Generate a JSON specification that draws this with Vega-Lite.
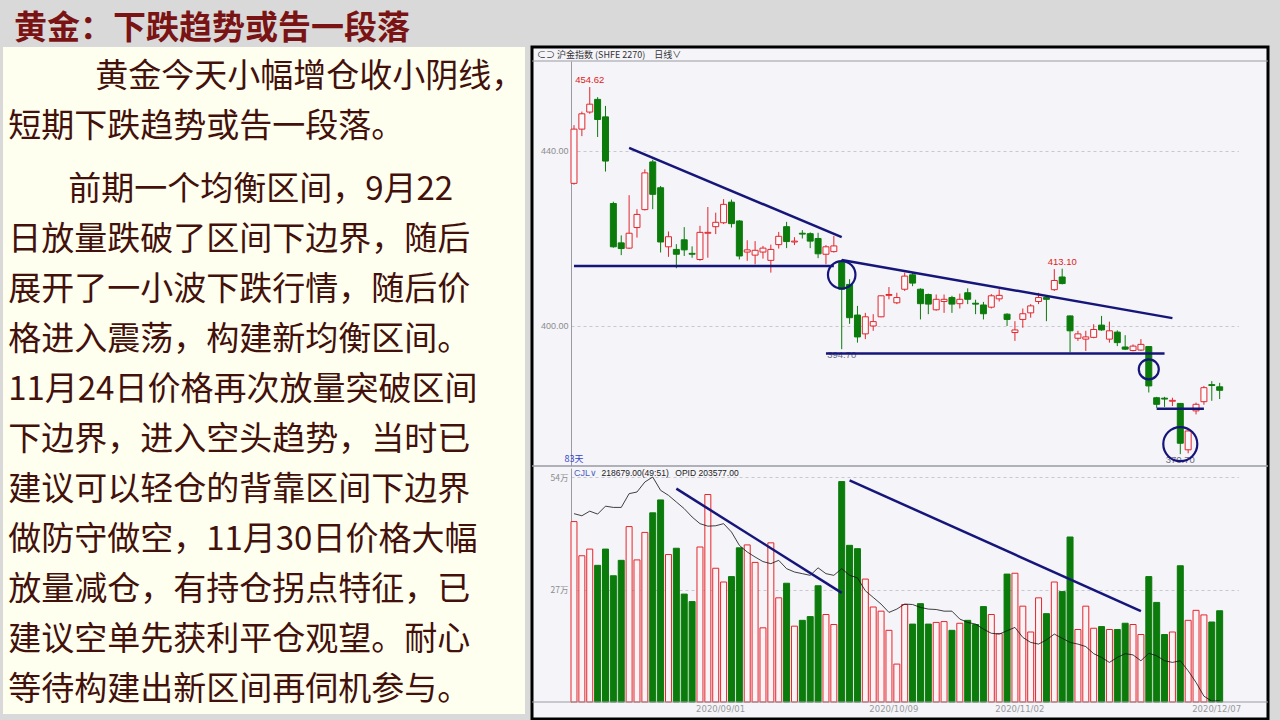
{
  "$schema": "https://vega.github.io/schema/vega-lite/v6.json",
  "background": "#d9d9d9",
  "padding": {"left": 3, "top": 12, "right": 12, "bottom": 2},
  "bounds": "flush",
  "title": {"text": "黄金：下跌趋势或告一段落", "anchor": "start", "font": "Noto Sans CJK SC", "fontSize": 33, "fontWeight": "bold", "color": "#7a1414", "offset": 0, "dx": 11},
  "config": {"view": {"stroke": null}, "axis": {"labelFont": "Liberation Sans"}},
  "spacing": 7,
  "datasets": {
    "k": [
      {"d":"2020/08/05","o":432.6,"h":445.9,"l":432.3,"c":445.0,"v":43.3,"oi":45.2},
      {"d":"2020/08/06","o":445.0,"h":449.0,"l":443.4,"c":448.5,"v":35.1,"oi":44.7},
      {"d":"2020/08/07","o":448.9,"h":454.62,"l":448.5,"c":450.7,"v":36.7,"oi":45.8},
      {"d":"2020/08/10","o":451.8,"h":452.3,"l":443.2,"c":447.2,"v":32.8,"oi":45.1},
      {"d":"2020/08/11","o":447.8,"h":450.3,"l":435.3,"c":437.7,"v":36.7,"oi":47.0},
      {"d":"2020/08/12","o":428.0,"h":428.4,"l":417.9,"c":418.1,"v":30.3,"oi":46.7},
      {"d":"2020/08/13","o":419.0,"h":420.7,"l":416.2,"c":417.7,"v":34.0,"oi":46.7},
      {"d":"2020/08/14","o":417.8,"h":429.9,"l":417.6,"c":421.2,"v":42.1,"oi":50.0},
      {"d":"2020/08/17","o":422.5,"h":426.7,"l":420.2,"c":425.5,"v":34.1,"oi":50.4},
      {"d":"2020/08/18","o":426.6,"h":435.8,"l":426.4,"c":435.0,"v":40.7,"oi":52.8},
      {"d":"2020/08/19","o":437.5,"h":438.0,"l":426.7,"c":430.1,"v":45.4,"oi":54.0},
      {"d":"2020/08/20","o":431.6,"h":432.0,"l":416.8,"c":419.2,"v":48.5,"oi":50.8},
      {"d":"2020/08/21","o":418.1,"h":421.6,"l":415.8,"c":420.4,"v":35.4,"oi":49.6},
      {"d":"2020/08/24","o":417.5,"h":418.7,"l":413.2,"c":416.4,"v":36.9,"oi":48.0},
      {"d":"2020/08/25","o":419.7,"h":422.6,"l":416.0,"c":417.4,"v":25.9,"oi":46.4},
      {"d":"2020/08/26","o":416.6,"h":418.2,"l":415.6,"c":416.4,"v":24.1,"oi":44.4},
      {"d":"2020/08/27","o":415.2,"h":422.9,"l":414.9,"c":421.4,"v":37.2,"oi":42.8},
      {"d":"2020/08/28","o":421.2,"h":427.2,"l":415.6,"c":421.4,"v":49.8,"oi":42.2},
      {"d":"2020/08/31","o":422.7,"h":425.9,"l":421.0,"c":423.7,"v":32.1,"oi":42.3},
      {"d":"2020/09/01","o":423.6,"h":429.0,"l":423.3,"c":427.8,"v":28.8,"oi":42.8},
      {"d":"2020/09/02","o":428.3,"h":428.9,"l":422.5,"c":423.4,"v":30.1,"oi":40.8},
      {"d":"2020/09/03","o":424.0,"h":424.2,"l":415.2,"c":416.0,"v":37.0,"oi":37.6},
      {"d":"2020/09/04","o":416.9,"h":419.6,"l":414.9,"c":417.4,"v":37.7,"oi":36.0},
      {"d":"2020/09/07","o":416.2,"h":419.4,"l":414.1,"c":417.3,"v":33.5,"oi":34.8},
      {"d":"2020/09/08","o":416.9,"h":418.3,"l":415.4,"c":417.8,"v":17.8,"oi":33.7},
      {"d":"2020/09/09","o":415.0,"h":418.6,"l":412.2,"c":417.5,"v":38.2,"oi":33.2},
      {"d":"2020/09/10","o":418.6,"h":421.5,"l":417.7,"c":420.5,"v":25.0,"oi":34.0},
      {"d":"2020/09/11","o":422.7,"h":423.8,"l":417.8,"c":419.3,"v":28.5,"oi":32.0},
      {"d":"2020/09/14","o":419.2,"h":420.3,"l":418.5,"c":419.4,"v":18.2,"oi":31.2},
      {"d":"2020/09/15","o":421.2,"h":421.9,"l":420.0,"c":421.0,"v":19.6,"oi":30.8},
      {"d":"2020/09/16","o":421.1,"h":421.4,"l":417.8,"c":419.4,"v":20.5,"oi":30.4},
      {"d":"2020/09/17","o":420.0,"h":421.3,"l":415.5,"c":416.5,"v":27.9,"oi":32.2},
      {"d":"2020/09/18","o":416.4,"h":418.5,"l":414.1,"c":418.1,"v":21.0,"oi":30.8},
      {"d":"2020/09/21","o":417.0,"h":420.6,"l":416.8,"c":418.3,"v":18.6,"oi":30.4},
      {"d":"2020/09/22","o":414.5,"h":415.2,"l":394.7,"c":408.4,"v":52.9,"oi":32.0},
      {"d":"2020/09/23","o":409.5,"h":410.7,"l":400.5,"c":401.9,"v":37.6,"oi":30.4},
      {"d":"2020/09/24","o":402.5,"h":404.6,"l":396.2,"c":397.5,"v":36.8,"oi":29.8},
      {"d":"2020/09/25","o":398.2,"h":403.0,"l":397.0,"c":402.1,"v":29.5,"oi":26.7},
      {"d":"2020/09/28","o":400.0,"h":402.7,"l":398.9,"c":401.0,"v":22.8,"oi":25.1},
      {"d":"2020/09/29","o":402.1,"h":407.0,"l":402.0,"c":406.9,"v":21.8,"oi":23.5},
      {"d":"2020/09/30","o":407.0,"h":408.9,"l":406.1,"c":407.2,"v":17.2,"oi":21.5},
      {"d":"2020/10/09","o":405.3,"h":407.6,"l":405.0,"c":406.5,"v":9.1,"oi":22.3},
      {"d":"2020/10/12","o":408.4,"h":412.2,"l":408.0,"c":411.4,"v":23.4,"oi":23.5},
      {"d":"2020/10/13","o":411.7,"h":412.3,"l":409.1,"c":409.8,"v":18.7,"oi":23.4},
      {"d":"2020/10/14","o":408.4,"h":408.6,"l":401.5,"c":405.1,"v":23.6,"oi":22.7},
      {"d":"2020/10/15","o":407.2,"h":407.4,"l":402.7,"c":405.0,"v":18.7,"oi":22.3},
      {"d":"2020/10/16","o":403.7,"h":407.2,"l":403.5,"c":406.1,"v":19.1,"oi":22.2},
      {"d":"2020/10/19","o":405.6,"h":407.2,"l":403.0,"c":406.1,"v":19.3,"oi":21.8},
      {"d":"2020/10/20","o":406.5,"h":406.9,"l":403.0,"c":405.0,"v":17.2,"oi":21.8},
      {"d":"2020/10/21","o":405.1,"h":407.4,"l":404.0,"c":406.1,"v":18.9,"oi":19.9},
      {"d":"2020/10/22","o":407.6,"h":408.6,"l":405.0,"c":406.1,"v":19.6,"oi":19.1},
      {"d":"2020/10/23","o":405.2,"h":406.0,"l":402.7,"c":405.0,"v":18.6,"oi":18.7},
      {"d":"2020/10/26","o":404.8,"h":405.5,"l":401.5,"c":402.8,"v":22.9,"oi":17.5},
      {"d":"2020/10/27","o":404.3,"h":407.3,"l":404.0,"c":406.9,"v":21.0,"oi":16.5},
      {"d":"2020/10/28","o":406.2,"h":408.4,"l":405.6,"c":407.0,"v":16.4,"oi":16.3},
      {"d":"2020/10/29","o":402.7,"h":402.9,"l":400.0,"c":401.5,"v":30.7,"oi":17.1},
      {"d":"2020/10/30","o":398.5,"h":401.1,"l":396.6,"c":399.1,"v":30.9,"oi":17.9},
      {"d":"2020/11/02","o":401.5,"h":404.0,"l":399.6,"c":402.8,"v":23.0,"oi":15.5},
      {"d":"2020/11/03","o":403.0,"h":405.0,"l":401.9,"c":404.6,"v":16.8,"oi":14.3},
      {"d":"2020/11/04","o":405.6,"h":407.6,"l":405.0,"c":406.5,"v":25.0,"oi":13.9},
      {"d":"2020/11/05","o":406.5,"h":406.6,"l":401.1,"c":406.1,"v":21.2,"oi":14.9},
      {"d":"2020/11/06","o":408.3,"h":413.0,"l":408.0,"c":410.4,"v":28.8,"oi":16.3},
      {"d":"2020/11/09","o":411.2,"h":413.1,"l":409.5,"c":409.7,"v":26.5,"oi":15.3},
      {"d":"2020/11/10","o":402.3,"h":402.4,"l":394.0,"c":398.9,"v":39.6,"oi":14.3},
      {"d":"2020/11/11","o":397.2,"h":398.9,"l":396.6,"c":398.2,"v":17.4,"oi":13.9},
      {"d":"2020/11/12","o":397.0,"h":398.9,"l":394.3,"c":397.5,"v":23.0,"oi":13.3},
      {"d":"2020/11/13","o":397.4,"h":400.4,"l":397.2,"c":399.2,"v":17.7,"oi":11.6},
      {"d":"2020/11/16","o":400.2,"h":402.3,"l":398.9,"c":399.1,"v":18.1,"oi":10.7},
      {"d":"2020/11/17","o":397.0,"h":401.0,"l":396.2,"c":398.9,"v":17.4,"oi":9.5},
      {"d":"2020/11/18","o":398.6,"h":399.0,"l":395.4,"c":396.2,"v":17.4,"oi":10.7},
      {"d":"2020/11/19","o":395.2,"h":397.9,"l":394.5,"c":394.7,"v":18.9,"oi":11.6},
      {"d":"2020/11/20","o":394.4,"h":395.8,"l":394.2,"c":395.4,"v":18.6,"oi":11.3},
      {"d":"2020/11/23","o":394.5,"h":397.0,"l":394.3,"c":395.8,"v":16.2,"oi":9.9},
      {"d":"2020/11/24","o":395.3,"h":395.4,"l":384.8,"c":386.3,"v":30.1,"oi":11.7},
      {"d":"2020/11/25","o":383.6,"h":383.8,"l":381.3,"c":382.1,"v":23.9,"oi":11.1},
      {"d":"2020/11/26","o":383.5,"h":383.8,"l":381.5,"c":383.3,"v":16.2,"oi":9.9},
      {"d":"2020/11/27","o":382.8,"h":383.6,"l":381.7,"c":383.0,"v":16.8,"oi":9.5},
      {"d":"2020/11/30","o":382.3,"h":382.4,"l":370.7,"c":373.2,"v":32.7,"oi":9.9},
      {"d":"2020/12/01","o":371.7,"h":376.2,"l":370.9,"c":376.0,"v":19.6,"oi":7.5},
      {"d":"2020/12/02","o":380.6,"h":382.5,"l":379.8,"c":382.1,"v":22.0,"oi":4.7},
      {"d":"2020/12/03","o":382.7,"h":386.3,"l":382.0,"c":385.9,"v":20.9,"oi":1.4},
      {"d":"2020/12/04","o":386.6,"h":387.4,"l":382.9,"c":386.4,"v":19.2,"oi":0.2},
      {"d":"2020/12/07","o":386.1,"h":387.0,"l":383.3,"c":385.3,"v":21.9,"oi":0.3}
    ],
    "lines": [
      {"p":1,"n":1,"t":"黄金今天小幅增仓收小阴线，"},
      {"p":1,"n":2,"t":"短期下跌趋势或告一段落。"},
      {"p":2,"n":3,"t":"前期一个均衡区间，9月22"},
      {"p":2,"n":4,"t":"日放量跌破了区间下边界，随后"},
      {"p":2,"n":5,"t":"展开了一小波下跌行情，随后价"},
      {"p":2,"n":6,"t":"格进入震荡，构建新均衡区间。"},
      {"p":2,"n":7,"t":"11月24日价格再次放量突破区间"},
      {"p":2,"n":8,"t":"下边界，进入空头趋势，当时已"},
      {"p":2,"n":9,"t":"建议可以轻仓的背靠区间下边界"},
      {"p":2,"n":10,"t":"做防守做空，11月30日价格大幅"},
      {"p":2,"n":11,"t":"放量减仓，有持仓拐点特征，已"},
      {"p":2,"n":12,"t":"建议空单先获利平仓观望。耐心"},
      {"p":2,"n":13,"t":"等待构建出新区间再伺机参与。"}
    ],
    "ptrend": [
      {"g":"a","d":"2020/08/14","p":440.7},{"g":"a","d":"2020/09/22","p":420.3},
      {"g":"b","d":"2020/08/05","p":413.7},{"g":"b","d":"2020/09/21","p":413.7},
      {"g":"c","d":"2020/09/22","p":415.1},{"g":"c","d":"2020/11/27","p":401.8},
      {"g":"d","d":"2020/09/18","p":393.7},{"g":"d","d":"2020/11/26","p":393.7},
      {"g":"e","d":"2020/11/25","p":381.1},{"g":"e","d":"2020/12/03","p":381.1}
    ],
    "vtrend": [
      {"g":"a","d":"2020/08/24","v":51.2},{"g":"a","d":"2020/09/22","v":26.2},
      {"g":"b","d":"2020/09/23","v":53.2},{"g":"b","d":"2020/11/23","v":21.8}
    ],
    "dates": [
      {"d":"2020/09/01","v":0},{"d":"2020/10/09","v":0},{"d":"2020/11/02","v":0},{"d":"2020/12/07","v":0}
    ]
  },
  "hconcat": [
    {
      "width": 522,
      "height": 667,
      "view": {"fill": "#FFFFF0", "stroke": null},
      "data": {"name": "lines"},
      "encoding": {
        "x": {"datum": 0, "type": "quantitative", "scale": {"domain": [-0.01, 1], "nice": false, "zero": false}, "axis": null},
        "y": {"field": "n", "type": "quantitative", "scale": {"domain": [0.4, 13.74], "nice": false, "zero": false, "reverse": true}, "axis": null},
        "text": {"field": "t"}
      },
      "layer": [
        {
          "transform": [{"filter": "datum.n == 1"}],
          "mark": {"type": "text", "align": "left", "baseline": "middle", "font": "Noto Sans CJK SC", "fontSize": 33, "color": "#43110b", "dx": 87}
        },
        {
          "transform": [{"filter": "datum.n == 2"}],
          "mark": {"type": "text", "align": "left", "baseline": "middle", "font": "Noto Sans CJK SC", "fontSize": 33, "color": "#43110b"}
        },
        {
          "transform": [{"filter": "datum.n == 3"}],
          "mark": {"type": "text", "align": "left", "baseline": "middle", "font": "Noto Sans CJK SC", "fontSize": 33, "color": "#43110b", "dx": 60, "dy": 13}
        },
        {
          "transform": [{"filter": "datum.n >= 4"}],
          "mark": {"type": "text", "align": "left", "baseline": "middle", "font": "Noto Sans CJK SC", "fontSize": 33, "color": "#43110b", "dy": 13}
        }
      ]
    },
    {
      "width": 736,
      "height": 672,
      "view": {"fill": "#F4F4F9", "stroke": "#000000", "strokeWidth": 3},
      "resolve": {"scale": {"y": "independent"}},
      "layer": [
        {
          "data": {"name": "k"},
          "mark": {"type": "bar", "strokeWidth": 1},
          "encoding": {
            "x": {"field": "d", "type": "ordinal", "scale": {"type": "band", "range": [39, 706.4], "paddingInner": 0.24, "paddingOuter": 1, "align": 0}, "axis": null},
            "y": {"field": "v", "type": "quantitative", "scale": {"domain": [0, 56.16], "range": [655, 421], "nice": false, "zero": false},
              "axis": {"orient": "left", "offset": -39, "values": [27, 54], "labelExpr": "datum.value + '万'", "labelColor": "#8c8c8c", "labelFont": "Noto Sans CJK SC", "labelFontSize": 8.5, "ticks": false, "labelPadding": 3, "domainColor": "#9a9aa2", "grid": true, "gridColor": "#c8c8d0", "gridDash": [3, 3], "title": null}},
            "fill": {"condition": {"test": "datum.c >= datum.o", "value": "#faf4f6"}, "value": "#0b7b0b"},
            "stroke": {"condition": {"test": "datum.c >= datum.o", "value": "#e3262d"}, "value": "#0b7b0b"}
          }
        },
        {
          "data": {"name": "k"},
          "mark": {"type": "line", "color": "#111111", "strokeWidth": 0.8},
          "encoding": {
            "x": {"field": "d", "type": "ordinal", "axis": null},
            "y": {"field": "oi", "type": "quantitative", "scale": {"domain": [0, 56.16], "range": [655, 421], "nice": false, "zero": false}, "axis": null}
          }
        },
        {
          "data": {"name": "vtrend"},
          "mark": {"type": "line", "color": "#16167a", "strokeWidth": 2.5},
          "encoding": {
            "x": {"field": "d", "type": "ordinal", "axis": null},
            "y": {"field": "v", "type": "quantitative", "scale": {"domain": [0, 56.16], "range": [655, 421], "nice": false, "zero": false}, "axis": null},
            "detail": {"field": "g"}
          }
        },
        {
          "data": {"values": [{}]},
          "mark": {"type": "rule", "color": "#9a9aa2", "strokeWidth": 1},
          "encoding": {"y": {"datum": 0, "type": "quantitative", "scale": {"domain": [0, 56.16], "range": [655, 421], "nice": false, "zero": false}, "axis": null}}
        },
        {
          "data": {"name": "dates"},
          "mark": {"type": "text", "align": "center", "baseline": "top", "dy": 3, "dx": -3, "font": "DejaVu Sans", "fontSize": 8.5, "color": "#999999"},
          "encoding": {
            "x": {"field": "d", "type": "ordinal", "axis": null},
            "y": {"field": "v", "type": "quantitative", "scale": {"domain": [0, 56.16], "range": [655, 421], "nice": false, "zero": false}, "axis": null},
            "text": {"field": "d"}
          }
        },
        {
          "data": {"values": [{"d":"2020/08/05","v":54.96,"t":"CJL∨"}]},
          "mark": {"type": "text", "align": "left", "baseline": "middle", "font": "Liberation Sans", "fontSize": 9, "color": "#4a62c0"},
          "encoding": {
            "x": {"field": "d", "type": "ordinal", "axis": null},
            "y": {"field": "v", "type": "quantitative", "scale": {"domain": [0, 56.16], "range": [655, 421], "nice": false, "zero": false}, "axis": null},
            "text": {"field": "t"}
          }
        },
        {
          "data": {"values": [{"d":"2020/08/10","v":54.96,"t":"218679.00(49:51)\u2002 OPID 203577.00"}]},
          "mark": {"type": "text", "align": "left", "baseline": "middle", "dx": 4, "font": "Liberation Sans", "fontSize": 8.5, "color": "#222222"},
          "encoding": {
            "x": {"field": "d", "type": "ordinal", "axis": null},
            "y": {"field": "v", "type": "quantitative", "scale": {"domain": [0, 56.16], "range": [655, 421], "nice": false, "zero": false}, "axis": null},
            "text": {"field": "t"}
          }
        },
        {
          "data": {"values": [{}]},
          "mark": {"type": "rule", "color": "#9a9aa2", "strokeWidth": 1},
          "encoding": {"y": {"datum": 460.57, "type": "quantitative", "scale": {"domain": [368, 460.57], "range": [419, 14], "nice": false, "zero": false}, "axis": null}}
        },
        {
          "data": {"values": [{}]},
          "mark": {"type": "rule", "color": "#9a9aa2", "strokeWidth": 1.5},
          "encoding": {"y": {"datum": 368, "type": "quantitative", "scale": {"domain": [368, 460.57], "range": [419, 14], "nice": false, "zero": false}, "axis": null}}
        },
        {
          "data": {"name": "k"},
          "mark": {"type": "rule", "strokeWidth": 1},
          "encoding": {
            "x": {"field": "d", "type": "ordinal", "axis": null},
            "y": {"field": "l", "type": "quantitative", "scale": {"domain": [368, 460.57], "range": [419, 14], "nice": false, "zero": false},
              "axis": {"orient": "left", "offset": -39, "values": [400, 440], "format": ".2f", "labelColor": "#8c8c8c", "labelFontSize": 9, "ticks": false, "labelPadding": 3, "domainColor": "#9a9aa2", "grid": true, "gridColor": "#c8c8d0", "gridDash": [3, 3], "title": null}},
            "y2": {"field": "h"},
            "color": {"condition": {"test": "datum.c >= datum.o", "value": "#e3262d"}, "value": "#0b7b0b"}
          }
        },
        {
          "data": {"name": "k"},
          "mark": {"type": "bar", "strokeWidth": 1},
          "encoding": {
            "x": {"field": "d", "type": "ordinal", "axis": null},
            "y": {"field": "o", "type": "quantitative", "scale": {"domain": [368, 460.57], "range": [419, 14], "nice": false, "zero": false}, "axis": null},
            "y2": {"field": "c"},
            "fill": {"condition": {"test": "datum.c >= datum.o", "value": "#fafafc"}, "value": "#0b7b0b"},
            "stroke": {"condition": {"test": "datum.c >= datum.o", "value": "#e3262d"}, "value": "#0b7b0b"}
          }
        },
        {
          "data": {"values": [{"d":"2020/08/07","p":454.62,"t":"454.62"},{"d":"2020/11/09","p":413.1,"t":"413.10"}]},
          "mark": {"type": "text", "baseline": "bottom", "dy": -2, "font": "Liberation Sans", "fontSize": 9.5, "color": "#e02020"},
          "encoding": {
            "x": {"field": "d", "type": "ordinal", "axis": null},
            "y": {"field": "p", "type": "quantitative", "scale": {"domain": [368, 460.57], "range": [419, 14], "nice": false, "zero": false}, "axis": null},
            "text": {"field": "t"}
          }
        },
        {
          "data": {"values": [{"d":"2020/09/22","p":394.7,"t":"394.70"},{"d":"2020/11/30","p":370.7,"t":"370.70"}]},
          "mark": {"type": "text", "baseline": "top", "dy": 1, "font": "Liberation Sans", "fontSize": 9.5, "color": "#6a6a80"},
          "encoding": {
            "x": {"field": "d", "type": "ordinal", "axis": null},
            "y": {"field": "p", "type": "quantitative", "scale": {"domain": [368, 460.57], "range": [419, 14], "nice": false, "zero": false}, "axis": null},
            "text": {"field": "t"}
          }
        },
        {
          "data": {"name": "ptrend"},
          "mark": {"type": "line", "color": "#16167a", "strokeWidth": 2.5},
          "encoding": {
            "x": {"field": "d", "type": "ordinal", "axis": null},
            "y": {"field": "p", "type": "quantitative", "scale": {"domain": [368, 460.57], "range": [419, 14], "nice": false, "zero": false}, "axis": null},
            "detail": {"field": "g"}
          }
        },
        {
          "data": {"values": [{"d":"2020/09/22","p":411.7}]},
          "mark": {"type": "point", "shape": "circle", "filled": false, "size": 755, "strokeWidth": 2.2, "color": "#16167a", "opacity": 1},
          "encoding": {
            "x": {"field": "d", "type": "ordinal", "axis": null},
            "y": {"field": "p", "type": "quantitative", "scale": {"domain": [368, 460.57], "range": [419, 14], "nice": false, "zero": false}, "axis": null}
          }
        },
        {
          "data": {"values": [{"d":"2020/11/24","p":390.1}]},
          "mark": {"type": "point", "shape": "circle", "filled": false, "size": 401, "strokeWidth": 2.2, "color": "#16167a", "opacity": 1},
          "encoding": {
            "x": {"field": "d", "type": "ordinal", "axis": null},
            "y": {"field": "p", "type": "quantitative", "scale": {"domain": [368, 460.57], "range": [419, 14], "nice": false, "zero": false}, "axis": null}
          }
        },
        {
          "data": {"values": [{"d":"2020/11/30","p":373.0}]},
          "mark": {"type": "point", "shape": "circle", "filled": false, "size": 1158, "strokeWidth": 2.2, "color": "#16167a", "opacity": 1},
          "encoding": {
            "x": {"field": "d", "type": "ordinal", "axis": null},
            "y": {"field": "p", "type": "quantitative", "scale": {"domain": [368, 460.57], "range": [419, 14], "nice": false, "zero": false}, "axis": null}
          }
        },
        {
          "data": {"values": [{"d":"2020/08/05","p":369.5,"t":"83天"}]},
          "mark": {"type": "text", "align": "center", "baseline": "middle", "font": "Noto Sans CJK SC", "fontSize": 9, "color": "#3344cc"},
          "encoding": {
            "x": {"field": "d", "type": "ordinal", "axis": null},
            "y": {"field": "p", "type": "quantitative", "scale": {"domain": [368, 460.57], "range": [419, 14], "nice": false, "zero": false}, "axis": null},
            "text": {"field": "t"}
          }
        },
        {
          "data": {"values": [{"d":"2020/08/05","p":461.9,"t":"⊂⊃ 沪金指数 (SHFE 2270)\u2002\u2002日线∨"}]},
          "mark": {"type": "text", "align": "left", "baseline": "middle", "dx": -37, "font": "Noto Sans CJK SC", "fontSize": 9, "color": "#333333"},
          "encoding": {
            "x": {"field": "d", "type": "ordinal", "axis": null},
            "y": {"field": "p", "type": "quantitative", "scale": {"domain": [368, 460.57], "range": [419, 14], "nice": false, "zero": false}, "axis": null},
            "text": {"field": "t"}
          }
        }
      ]
    }
  ]
}
